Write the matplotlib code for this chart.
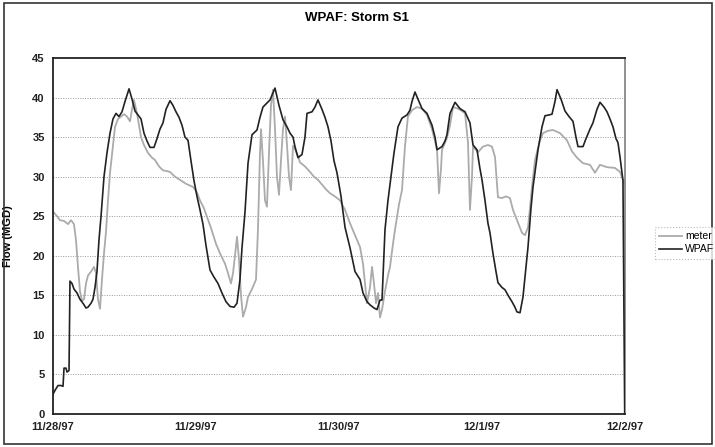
import matplotlib
matplotlib.use("Agg")
from matplotlib import pyplot as plt
from matplotlib.patches import Rectangle

plt.rcParams['font.family'] = ['Liberation Sans', 'DejaVu Sans']

# horas desde 11/28/97 00:00
wpaf_h = [0, 0.34, 0.84, 1.34, 1.68, 1.85, 2.18, 2.35, 2.69, 2.85, 3.19, 3.52, 4.03, 4.53,
          5.03, 5.54, 5.87, 6.38, 6.71, 7.05, 7.38, 7.72, 8.06, 8.56, 9.06, 9.57, 10.07,
          10.57, 11.08, 11.58, 12.08, 12.76, 13.26, 13.76, 14.27, 14.77, 15.27, 15.78,
          16.28, 16.95, 17.45, 17.95, 18.46, 18.96, 19.64, 20.14, 20.64, 21.15, 21.65,
          22.15, 22.66, 23.16, 23.66, 24.17, 24.67, 25.17, 25.68, 26.35, 27.02, 27.69,
          28.36, 29.03, 29.71, 30.38, 30.88, 31.38, 31.72, 32.22, 32.73, 33.40, 34.24,
          34.74, 35.24, 35.91, 36.42, 37.26, 37.93, 38.60, 39.27, 39.78, 40.28, 40.61,
          41.12, 41.79, 42.29, 42.63, 43.47, 43.97, 44.47, 45.15, 45.65, 46.15, 46.66,
          47.16, 47.66, 48.34, 49.01, 49.85, 50.69, 51.53, 52.03, 52.70, 53.20, 53.87,
          54.38, 54.88, 55.22, 55.72, 56.22, 56.73, 57.23, 57.90, 58.57, 59.41, 59.91,
          60.25, 60.75, 61.43, 61.93, 62.77, 63.61, 64.11, 64.45, 65.29, 65.79, 66.12,
          66.63, 67.47, 68.31, 69.15, 69.98, 70.49, 71.16, 71.66, 72.00, 72.50, 73.00,
          73.34, 73.84, 74.35, 74.68, 75.35, 75.86, 76.53, 77.03, 77.53, 77.87, 78.38,
          78.88, 79.38, 79.72, 80.22, 80.56, 81.06, 81.40, 82.07, 82.57, 83.24, 83.75,
          84.25, 84.59, 85.26, 85.93, 86.60, 87.27, 87.77, 88.11, 88.95, 89.45, 90.12,
          90.62, 91.29, 91.80, 92.47, 92.98, 93.48, 93.98, 94.49, 94.82, 95.16, 95.50,
          95.66, 95.95]
wpaf = [2.5, 3.0, 3.6, 3.6, 3.5, 5.8, 5.8, 5.3, 5.5, 16.8, 16.5, 15.8, 15.3, 14.5,
        14.0, 13.4, 13.5, 14.0, 14.5, 16.0, 18.0, 22.0, 25.0, 30.0, 33.0, 35.5, 37.3,
        38.0, 37.6, 38.2, 39.5, 41.1, 39.8, 38.3, 37.8, 37.3, 35.5, 34.5,
        33.7, 33.7, 34.8, 36.0, 36.8, 38.5, 39.6, 39.0, 38.2, 37.5, 36.5,
        35.0, 34.6, 32.0, 29.5, 27.5, 25.8, 24.0, 21.3, 18.2, 17.3, 16.5,
        15.3, 14.2, 13.6, 13.5, 14.0, 17.0, 21.0, 25.5, 31.7, 35.3, 35.9,
        37.5, 38.8, 39.3, 39.7, 41.2, 39.0, 37.2, 36.3, 35.5, 35.0, 33.8,
        32.4, 32.8, 35.0, 38.0, 38.2, 38.8, 39.7, 38.5, 37.5, 36.3, 34.5,
        32.0, 30.5, 27.5, 23.6, 21.0, 18.0, 17.0, 15.3, 14.2, 13.8, 13.4,
        13.2, 14.4, 14.4, 23.3, 27.0, 30.0, 33.0, 36.3, 37.4, 37.8, 38.4,
        39.5, 40.7, 39.5, 38.6, 38.0, 36.5, 35.0, 33.4, 33.8, 34.5, 35.3,
        38.0, 39.4, 38.6, 38.2, 36.8, 34.0, 33.4, 31.0, 29.6, 27.0, 24.1,
        22.9, 20.3, 18.0, 16.6, 16.0, 15.7, 14.8, 14.2, 13.5, 12.9, 12.8,
        14.8, 18.5, 21.1, 26.0, 28.7, 31.5, 33.4, 36.3, 37.7, 37.8, 37.9,
        39.5, 41.0, 39.8, 38.3, 37.6, 37.0, 35.0, 33.8, 33.8, 34.8, 36.0,
        36.8, 38.5, 39.4, 38.8, 38.2, 37.3, 36.3, 34.8, 34.3, 32.5, 30.5,
        29.5, 0.0]

meter_h = [0, 0.67, 1.17, 1.85, 2.52, 3.02, 3.52, 3.86, 4.20, 4.53, 4.87, 5.20, 5.54,
           5.87, 6.38, 6.88, 7.22, 7.55, 7.89, 8.22, 8.56, 8.89, 9.23, 9.57, 10.07,
           10.41, 10.91, 11.41, 11.92, 12.42, 12.92, 13.26, 13.59, 14.10, 14.43, 14.77,
           15.27, 15.94, 16.62, 17.12, 17.79, 18.46, 19.13, 19.64, 20.47, 21.31, 22.32,
           23.50, 24.17, 24.67, 25.34, 25.85, 26.52, 27.36, 28.03, 28.87, 29.37, 29.87,
           30.21, 30.54, 30.88, 31.22, 31.55, 31.89, 32.39, 32.73, 33.40, 34.07, 34.40,
           34.74, 34.91, 35.24, 35.58, 35.91, 36.25, 36.58, 36.92, 37.26, 37.59, 37.93,
           38.26, 38.60, 38.94, 39.27, 39.61, 39.94, 40.28, 40.61, 41.12, 41.45, 42.29,
           43.13, 43.80, 44.47, 45.15, 45.82, 46.49, 47.33, 48.17, 49.01, 49.85, 50.69,
           51.53, 52.03, 52.37, 52.70, 53.20, 53.54, 53.87, 54.21, 54.54, 54.88, 55.22,
           55.72, 56.22, 56.56, 57.06, 57.40, 58.07, 58.57, 59.07, 59.57, 60.25, 61.09,
           61.93, 62.77, 63.61, 64.11, 64.45, 64.78, 65.12, 65.29, 66.12, 66.63, 67.13,
           67.97, 68.64, 69.15, 69.65, 69.98, 70.32, 70.49, 71.33, 72.17, 73.00, 73.67,
           74.18, 74.68, 75.35, 76.02, 76.69, 77.20, 77.87, 78.71, 79.21, 79.72, 80.05,
           80.39, 80.89, 81.73, 82.24, 83.07, 83.91, 85.09, 86.26, 87.10, 87.94, 88.95,
           90.12, 90.96, 91.80, 92.98, 94.32, 95.16, 95.66, 96.0]
meter = [25.6, 25.0, 24.5, 24.4, 24.0, 24.5, 24.0, 22.0, 18.5, 15.5, 14.3, 14.5, 16.5,
         17.5, 18.0, 18.6, 17.8, 14.5, 13.3, 17.0, 20.3, 23.0, 27.0, 30.5, 34.0,
         36.3, 37.3, 37.6, 37.9, 37.6, 37.0, 38.5, 39.7, 38.0, 36.5, 35.0,
         34.0, 33.0, 32.4, 32.1, 31.3, 30.8, 30.7, 30.6, 30.0, 29.6, 29.1,
         28.7, 28.0, 27.0, 26.0, 24.9, 23.5, 21.5, 20.3, 19.0, 17.8, 16.5,
         17.8, 20.0, 22.4, 19.5, 15.0, 12.3, 13.5, 14.8, 15.8, 17.0, 23.3,
         33.0, 36.0, 32.0, 27.0, 26.2, 33.0, 39.0, 41.0, 36.0, 30.0, 27.7,
         32.0, 36.0, 37.6, 34.0, 30.0, 28.3, 33.9, 33.5, 32.6, 31.8, 31.3,
         30.6, 30.0, 29.6, 29.0, 28.4, 27.9, 27.5, 27.0, 25.8, 24.1, 22.6,
         21.1, 19.0, 16.5, 14.0, 16.0, 18.6, 16.5, 14.0, 15.3, 12.2, 13.2,
         15.5, 17.5, 18.6, 21.5, 23.3, 26.5, 28.3, 33.8, 37.6, 38.4, 38.8,
         38.6, 37.8, 36.0, 34.5, 33.4, 27.9, 31.0, 33.4, 34.9, 36.5, 38.8,
         38.6, 38.3, 38.0, 34.3, 25.8, 30.0, 33.8, 33.1, 33.8, 34.0, 33.8,
         32.5, 27.4, 27.3, 27.5, 27.3, 25.8, 24.5, 22.9, 22.6, 23.6, 26.0,
         28.7, 32.1, 34.6, 35.5, 35.8, 35.9, 35.5, 34.6, 33.2, 32.4, 31.7,
         31.5, 30.5, 31.5, 31.2, 31.1, 30.6, 29.6, 29.0]

fechas = ["11/28/97", "11/29/97", "11/30/97", "12/1/97", "12/2/97"]
y_ticks = [0, 5, 10, 15, 20, 25, 30, 35, 40, 45]

fig = plt.figure(figsize=(7.15, 4.47), dpi=100)
ax = fig.add_axes([53 / 715, 33 / 447, 572 / 715, 356 / 447])

# Borde exterior del gráfico
fig.patches.append(Rectangle((4 / 715, 3 / 447), 708 / 715, 441 / 447, transform=fig.transFigure,
                             fill=False, edgecolor='#333333', linewidth=1.2))

for y in y_ticks[1:-1]:
    ax.axhline(y, color='#999999', linewidth=0.7, linestyle=(0, (1, 1.5)), zorder=1)

dias_m = [h / 24 for h in meter_h]
dias_w = [h / 24 for h in wpaf_h]
ax.plot(dias_m, meter, color='#ababab', linewidth=1.3, label='meter', zorder=2)
ax.plot(dias_w, wpaf, color='#222222', linewidth=1.2, label='WPAF', zorder=3)

ax.set_xlim(0, 4)
ax.set_ylim(0, 45)
ax.set_yticks(y_ticks)
ax.set_xticks(range(len(fechas)))
ax.set_xticklabels(fechas)
ax.tick_params(length=0, labelsize=8, colors='#222222', pad=6)
for lab in ax.get_xticklabels() + ax.get_yticklabels():
    lab.set_fontweight('bold')

for s in ['top', 'left', 'bottom']:
    ax.spines[s].set_color('#222222')
    ax.spines[s].set_linewidth(1.3)
ax.spines['right'].set_color('#888888')
ax.spines['right'].set_linewidth(1.3)

ax.set_ylabel("Flow (MGD)", fontsize=8, fontweight='bold', labelpad=14)
fig.text(357 / 715, 1 - 18 / 447, "WPAF: Storm S1", ha='center', va='center',
         fontsize=9.5, fontweight='bold')

leg = fig.legend(loc='upper left', bbox_to_anchor=(650 / 715, 1 - 222 / 447), frameon=True,
                 fontsize=7.5, handlelength=2.2, handletextpad=0.3, borderpad=0.4,
                 labelspacing=0.3, fancybox=False)
leg.get_frame().set_edgecolor('#aaaaaa')
leg.get_frame().set_linestyle(':')
leg.get_frame().set_linewidth(0.8)

fig.savefig("out.png", dpi=100)
